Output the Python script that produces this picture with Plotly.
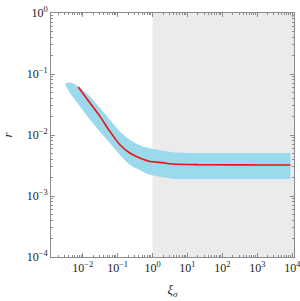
import plotly.graph_objects as go

# ---- data ----
band_xi = [0.00312, 0.00434, 0.00603, 0.00838, 0.0162, 0.0312, 0.0603, 0.1164,
           0.2245, 0.4335, 0.837, 1.617, 3.80, 22.5, 162, 1164, 8900]
band_upper = [0.0693, 0.0728, 0.0681, 0.0589, 0.0429, 0.0277, 0.0178, 0.01146,
              0.00837, 0.00680, 0.00608, 0.00564, 0.00523, 0.00507, 0.00507, 0.00507, 0.00507]
band_lower = [0.0693, 0.0488, 0.0379, 0.0294, 0.0178, 0.01146, 0.00739, 0.00475,
              0.00326, 0.00265, 0.00223, 0.00207, 0.00192, 0.00190, 0.00190, 0.00190, 0.00190]

line_xi = [0.0075, 0.0162, 0.0312, 0.0603, 0.1164, 0.2245, 0.4335, 0.837,
           1.617, 3.80, 22.5, 162, 1164, 8900]
line_r = [0.0612, 0.0335, 0.0202, 0.01146, 0.00693, 0.00507, 0.0042, 0.00369,
          0.00356, 0.00335, 0.00326, 0.00324, 0.00323, 0.00323]

shade_start = 1.0
shade_end = 1e5

x_tickvals = [1e-2, 1e-1, 1e0, 1e1, 1e2, 1e3, 1e4]
x_ticktext = ["10<sup>−2</sup>", "10<sup>−1</sup>", "10<sup>0</sup>", "10<sup>1</sup>",
              "10<sup>2</sup>", "10<sup>3</sup>", "10<sup>4</sup>"]
y_tickvals = [1e-4, 1e-3, 1e-2, 1e-1, 1e0]
y_ticktext = ["10<sup>−4</sup>", "10<sup>−3</sup>", "10<sup>−2</sup>", "10<sup>−1</sup>", "10<sup>0</sup>"]

FONT = "Liberation Serif"
AX = "#8c8c8c"
BAND = "rgb(155,217,236)"

fig = go.Figure()

# grey region xi >= 1
fig.add_trace(go.Scatter(
    x=[shade_start, shade_end, shade_end, shade_start],
    y=[1e-6, 1e-6, 10, 10],
    fill="toself", fillcolor="#ebebeb", line=dict(width=0),
    mode="lines", hoverinfo="skip", showlegend=False))

# uncertainty band: lower edge, then upper edge filled down to it
fig.add_trace(go.Scatter(
    x=band_xi, y=band_lower, mode="lines",
    line=dict(width=0, color=BAND, shape="spline", smoothing=0.8),
    hoverinfo="skip", showlegend=False))
fig.add_trace(go.Scatter(
    x=band_xi, y=band_upper, mode="lines", fill="tonexty", fillcolor=BAND,
    line=dict(width=0, color=BAND, shape="spline", smoothing=0.8),
    hoverinfo="skip", showlegend=False))

# central line
fig.add_trace(go.Scatter(
    x=line_xi, y=line_r, mode="lines",
    line=dict(color="#f01010", width=1.6, shape="spline", smoothing=0.8),
    showlegend=False))

axis_common = dict(
    type="log", showgrid=False, zeroline=False,
    showline=True, linecolor=AX, linewidth=1, mirror="ticks",
    ticks="inside", ticklen=4, tickcolor=AX, tickwidth=0.8,
    minor=dict(ticks="inside", ticklen=2, tickcolor=AX, tickwidth=0.6, dtick="D1", showgrid=False),
    tickfont=dict(family=FONT, size=12, color="#222"),
    ticklabeloverflow="allow",
)

fig.update_xaxes(**axis_common, range=[-2.906, 4.05],
                 tickmode="array", tickvals=x_tickvals, ticktext=x_ticktext,
                 title=dict(text="<i>ξ</i><sub><i>σ</i></sub>", font=dict(family=FONT, size=13, color="#222"), standoff=10))
fig.update_yaxes(**axis_common, range=[-4, 0],
                 tickmode="array", tickvals=y_tickvals, ticktext=y_ticktext,
                 title=dict(text="<i>r</i>", font=dict(family=FONT, size=13, color="#222"), standoff=14))

fig.update_layout(
    width=300, height=301,
    margin=dict(l=51, r=6, t=13, b=44, autoexpand=False),
    plot_bgcolor="white", paper_bgcolor="white",
    showlegend=False,
)

fig.write_html("out.html", config={"displayModeBar": False},
               post_script="document.body.style.margin='0';")
